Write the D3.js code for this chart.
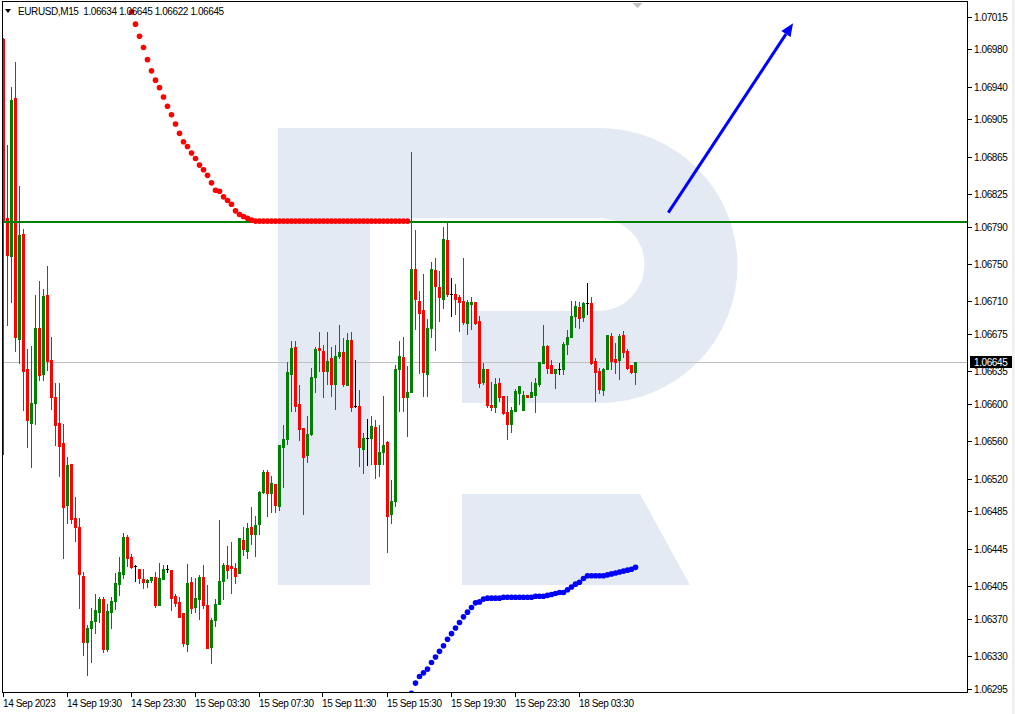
<!DOCTYPE html>
<html><head><meta charset="utf-8">
<script src="https://cdn.jsdelivr.net/npm/d3@7"></script>
<style>
html,body{margin:0;padding:0;background:#fff;}
svg{display:block;}
text{font-family:"Liberation Sans",Arial,sans-serif;font-size:10px;letter-spacing:-0.4px;}
</style></head><body>
<svg id="c" width="1015" height="714"></svg>
<script>
const symbol = "EURUSD,M15";
const lastOHLC = ["1.06634","1.06645","1.06622","1.06645"];
const timeLabels = ["14 Sep 2023","14 Sep 19:30","14 Sep 23:30","15 Sep 03:30","15 Sep 07:30","15 Sep 11:30","15 Sep 15:30","15 Sep 19:30","15 Sep 23:30","18 Sep 03:30"];
const timeTickIdx = [0,16,32,48,64,80,96,112,128,144];
const priceTicks = [1.07015,1.06980,1.06940,1.06905,1.06865,1.06825,1.06790,1.06750,1.06710,1.06675,1.06635,1.06600,1.06560,1.06520,1.06485,1.06445,1.06405,1.06370,1.06330,1.06295];

const open = [1.06991,1.06799,1.06759,1.06928,1.06670,1.06782,1.06638,1.06580,1.06601,1.06681,
1.06632,1.06717,1.06647,1.06608,1.06580,1.06558,1.06492,1.06536,1.06478,1.06468,
1.06416,1.06345,1.06360,1.06368,1.06377,1.06391,1.06338,1.06377,1.06389,1.06407,
1.06418,1.06458,1.06436,1.06426,1.06423,1.06413,1.06409,1.06411,1.06415,1.06385,
1.06413,1.06423,1.06422,1.06394,1.06388,1.06376,1.06343,1.06409,1.06383,1.06391,
1.06415,1.06385,1.06340,1.06369,1.06386,1.06410,1.06428,1.06426,1.06424,1.06419,
1.06454,1.06443,1.06468,1.06461,1.06471,1.06506,1.06527,1.06505,1.06514,1.06491,
1.06554,1.06563,1.06632,1.06661,1.06600,1.06574,1.06545,1.06568,1.06629,1.06660,
1.06657,1.06635,1.06649,1.06622,1.06651,1.06656,1.06620,1.06669,1.06598,1.06598,
1.06552,1.06564,1.06564,1.06575,1.06536,1.06549,1.06559,1.06482,1.06496,1.06638,
1.06650,1.06608,1.06613,1.06745,1.06710,1.06701,1.06632,1.06681,1.06744,1.06725,
1.06713,1.06776,1.06718,1.06718,1.06715,1.06710,1.06687,1.06707,1.06709,1.06689,
1.06624,1.06637,1.06599,1.06597,1.06623,1.06609,1.06591,1.06579,1.06593,1.06612,
1.06594,1.06610,1.06608,1.06610,1.06622,1.06644,1.06662,1.06642,1.06633,1.06638,
1.06638,1.06664,1.06672,1.06694,1.06704,1.06693,1.06708,1.06708,1.06646,1.06635,
1.06615,1.06637,1.06673,1.06648,1.06647,1.06674,1.06657,1.06642,1.06634];
const high = [1.06992,1.06877,1.06940,1.06966,1.06834,1.06788,1.06659,1.06662,1.06717,1.06732,
1.06723,1.06748,1.06672,1.06623,1.06623,1.06579,1.06543,1.06536,1.06500,1.06478,
1.06420,1.06363,1.06382,1.06396,1.06393,1.06393,1.06386,1.06393,1.06419,1.06436,
1.06462,1.06460,1.06439,1.06427,1.06423,1.06423,1.06413,1.06415,1.06420,1.06430,
1.06427,1.06428,1.06422,1.06396,1.06393,1.06376,1.06429,1.06415,1.06414,1.06417,
1.06428,1.06406,1.06371,1.06391,1.06476,1.06430,1.06448,1.06452,1.06430,1.06457,
1.06468,1.06472,1.06490,1.06480,1.06507,1.06529,1.06529,1.06523,1.06514,1.06556,
1.06578,1.06645,1.06667,1.06667,1.06620,1.06574,1.06587,1.06639,1.06661,1.06677,
1.06663,1.06677,1.06661,1.06663,1.06685,1.06671,1.06676,1.06677,1.06647,1.06615,
1.06569,1.06584,1.06587,1.06583,1.06577,1.06609,1.06560,1.06519,1.06642,1.06667,
1.06672,1.06641,1.06870,1.06786,1.06721,1.06739,1.06691,1.06752,1.06756,1.06742,
1.06790,1.06795,1.06735,1.06729,1.06717,1.06756,1.06711,1.06715,1.06709,1.06694,
1.06644,1.06638,1.06624,1.06628,1.06628,1.06609,1.06609,1.06597,1.06616,1.06619,
1.06614,1.06610,1.06624,1.06628,1.06645,1.06685,1.06663,1.06647,1.06638,1.06644,
1.06666,1.06679,1.06710,1.06710,1.06709,1.06709,1.06730,1.06715,1.06649,1.06639,
1.06639,1.06674,1.06676,1.06665,1.06675,1.06678,1.06659,1.06642,1.06645];
const low = [1.06547,1.06685,1.06709,1.06657,1.06644,1.06594,1.06554,1.06533,1.06579,1.06626,
1.06626,1.06636,1.06595,1.06556,1.06523,1.06435,1.06472,1.06472,1.06453,1.06382,
1.06331,1.06310,1.06324,1.06355,1.06366,1.06334,1.06335,1.06360,1.06380,1.06395,
1.06414,1.06426,1.06424,1.06410,1.06408,1.06403,1.06404,1.06409,1.06383,1.06385,
1.06413,1.06420,1.06379,1.06384,1.06372,1.06341,1.06335,1.06376,1.06377,1.06370,
1.06382,1.06339,1.06323,1.06362,1.06386,1.06391,1.06414,1.06397,1.06408,1.06419,
1.06438,1.06435,1.06450,1.06437,1.06461,1.06505,1.06480,1.06484,1.06484,1.06486,
1.06511,1.06557,1.06593,1.06593,1.06561,1.06482,1.06538,1.06567,1.06613,1.06635,
1.06608,1.06622,1.06609,1.06595,1.06649,1.06619,1.06620,1.06593,1.06597,1.06534,
1.06526,1.06535,1.06536,1.06521,1.06523,1.06536,1.06442,1.06472,1.06491,1.06593,
1.06593,1.06566,1.06613,1.06680,1.06633,1.06609,1.06609,1.06672,1.06658,1.06689,
1.06703,1.06716,1.06694,1.06696,1.06678,1.06686,1.06675,1.06680,1.06686,1.06618,
1.06622,1.06597,1.06594,1.06592,1.06603,1.06589,1.06563,1.06570,1.06593,1.06600,
1.06594,1.06607,1.06607,1.06591,1.06619,1.06644,1.06633,1.06633,1.06617,1.06632,
1.06632,1.06654,1.06672,1.06682,1.06681,1.06689,1.06697,1.06643,1.06603,1.06612,
1.06610,1.06637,1.06637,1.06633,1.06627,1.06650,1.06637,1.06633,1.06622];
const close = [1.06797,1.06760,1.06926,1.06672,1.06781,1.06635,1.06583,1.06601,1.06681,1.06631,
1.06716,1.06646,1.06607,1.06578,1.06555,1.06490,1.06535,1.06477,1.06468,1.06418,
1.06345,1.06360,1.06368,1.06379,1.06391,1.06338,1.06378,1.06389,1.06408,1.06420,
1.06458,1.06435,1.06425,1.06426,1.06414,1.06409,1.06412,1.06415,1.06385,1.06414,
1.06423,1.06423,1.06392,1.06387,1.06372,1.06344,1.06408,1.06381,1.06392,1.06415,
1.06385,1.06339,1.06369,1.06386,1.06410,1.06427,1.06422,1.06424,1.06416,1.06456,
1.06445,1.06467,1.06461,1.06470,1.06506,1.06527,1.06505,1.06515,1.06492,1.06556,
1.06563,1.06634,1.06660,1.06598,1.06573,1.06543,1.06568,1.06629,1.06659,1.06658,
1.06635,1.06646,1.06622,1.06652,1.06656,1.06621,1.06669,1.06597,1.06598,1.06554,
1.06564,1.06564,1.06576,1.06536,1.06549,1.06556,1.06480,1.06496,1.06638,1.06651,
1.06608,1.06613,1.06745,1.06713,1.06698,1.06634,1.06681,1.06745,1.06726,1.06715,
1.06777,1.06718,1.06718,1.06713,1.06709,1.06688,1.06709,1.06709,1.06687,1.06623,
1.06638,1.06599,1.06597,1.06622,1.06608,1.06590,1.06579,1.06594,1.06614,1.06619,
1.06610,1.06608,1.06613,1.06623,1.06645,1.06662,1.06639,1.06633,1.06638,1.06638,
1.06664,1.06672,1.06694,1.06705,1.06692,1.06708,1.06708,1.06644,1.06634,1.06616,
1.06638,1.06674,1.06646,1.06645,1.06673,1.06656,1.06639,1.06634,1.06645];

const redStart = 32;
const redDots = [1.07020,1.07007,1.06994,1.06982,1.06969,1.06957,1.06947,1.06939,1.06929,1.06919,
1.06910,1.06900,1.06890,1.06881,1.06876,1.06869,1.06863,1.06856,1.06851,1.06845,
1.06837,1.06829,1.06828,1.06822,1.06818,1.06814,1.06807,1.06803,1.06801,1.06799,1.06797,
1.06796,1.06796,1.06796,1.06796,1.06796,1.06796,1.06796,1.06796,1.06796,1.06796,
1.06796,1.06796,1.06796,1.06796,1.06796,1.06796,1.06796,1.06796,1.06796,1.06796,
1.06796,1.06796,1.06796,1.06796,1.06796,1.06796,1.06796,1.06796,1.06796,1.06796,
1.06796,1.06796,1.06796,1.06796,1.06796,1.06796,1.06796,1.06796,1.06796];
const blueStart = 102;
const blueDots = [1.06290,1.06301,1.06308,1.06312,1.06316,1.06323,1.06329,1.06335,1.06341,1.06348,
1.06354,1.06360,1.06366,1.06372,1.06377,1.06382,1.06387,1.06388,1.06391,1.06392,
1.06392,1.06392,1.06392,1.06393,1.06393,1.06393,1.06393,1.06393,1.06393,1.06393,
1.06393,1.06394,1.06394,1.06394,1.06395,1.06396,1.06397,1.06398,1.06398,1.06401,
1.06404,1.06407,1.06409,1.06413,1.06416,1.06416,1.06416,1.06416,1.06416,1.06417,
1.06418,1.06419,1.06420,1.06421,1.06422,1.06423,1.06425];

const levelPrice = 1.06795;
const bidPrice = 1.06645;
const bidLabel = "1.06645";
const arrowFrom = [166.2, 1.06805];
const arrowTo = [197.4, 1.07008];

const L = 2, R = 968, T = 2, B = 692;
const svg = d3.select("#c");
const x = d3.scaleLinear().domain([0, 241]).range([3.5, 967.5]);
const y = d3.scaleLinear().domain([1.06295, 1.07015]).range([688.7, 16.7]);

svg.append("defs").append("clipPath").attr("id","clip")
  .append("rect").attr("x",L+1).attr("y",T+1).attr("width",R-L-1).attr("height",B-T-1);

// watermark logo (decorative)
const wm = svg.append("g").attr("clip-path","url(#clip)");
wm.append("path").attr("fill","#e4eaf3")
  .attr("d","M278,128 H600 A137.5,137.5 0 0 1 600,403 H462 V311 H598 A46.5,46.5 0 0 0 598,218 H370 V585 H278 Z");
wm.append("path").attr("fill","#e4eaf3").attr("d","M462,494 H640 L690,585 H462 Z");

const g = svg.append("g").attr("clip-path","url(#clip)");

// bid line
g.append("line").attr("x1",L).attr("x2",R).attr("y1",Math.round(y(bidPrice))+0.5).attr("y2",Math.round(y(bidPrice))+0.5)
  .attr("stroke","#c0c0c0").attr("stroke-width",1);

// candles
const bars = d3.range(open.length).map(i => ({i, o:open[i], h:high[i], l:low[i], c:close[i]}));
const col = d => d.c > d.o ? "#008000" : (d.c < d.o ? "#ff0000" : "#000000");
g.selectAll("line.wick").data(bars).join("line").attr("class","wick")
  .attr("x1", d => x(d.i)).attr("x2", d => x(d.i))
  .attr("y1", d => Math.round(y(Math.max(d.h,d.o,d.c)))).attr("y2", d => Math.round(y(Math.min(d.l,d.o,d.c)))+1)
  .attr("stroke", col).attr("stroke-width",1);
g.selectAll("rect.body").data(bars).join("rect").attr("class","body")
  .attr("x", d => x(d.i)-1.5).attr("width",3)
  .attr("y", d => Math.round(y(Math.max(d.o,d.c))))
  .attr("height", d => Math.max(1, Math.round(y(Math.min(d.o,d.c))) - Math.round(y(Math.max(d.o,d.c)))+ (d.o===d.c?0:1)))
  .attr("fill", col);

// horizontal level
g.append("line").attr("x1",L).attr("x2",R).attr("y1",y(levelPrice)).attr("y2",y(levelPrice))
  .attr("stroke","#008000").attr("stroke-width",2);

// red dots
g.selectAll("circle.red").data(redDots.map((v,k)=>({i:redStart+k,v}))).join("circle").attr("class","red")
  .attr("cx", d => x(d.i)).attr("cy", d => y(d.v)).attr("r",2.8).attr("fill","#ff0000");
// blue dots
g.selectAll("circle.blue").data(blueDots.map((v,k)=>({i:blueStart+k,v}))).join("circle").attr("class","blue")
  .attr("cx", d => x(d.i)).attr("cy", d => y(d.v)).attr("r",2.8).attr("fill","#0000ff");

// arrow
const ax1 = x(arrowFrom[0]), ay1 = y(arrowFrom[1]), ax2 = x(arrowTo[0]), ay2 = y(arrowTo[1]);
const ang = Math.atan2(ay2-ay1, ax2-ax1);
const hl = 13, hw = 5.5;
const bx = ax2 - hl*Math.cos(ang), by = ay2 - hl*Math.sin(ang);
g.append("line").attr("x1",ax1).attr("y1",ay1).attr("x2",bx).attr("y2",by)
  .attr("stroke","#0000ff").attr("stroke-width",3);
g.append("path").attr("fill","#0000ff")
  .attr("d", `M${ax2},${ay2} L${bx - hw*Math.sin(ang)},${by + hw*Math.cos(ang)} L${bx + hw*Math.sin(ang)},${by - hw*Math.cos(ang)} Z`);

// shift marker
svg.append("path").attr("fill","#c0c0c0")
  .attr("d", `M${x(158.5)-5},${T+1} L${x(158.5)+5},${T+1} L${x(158.5)},${T+6} Z`);

// frame
svg.append("rect").attr("x",L+0.5).attr("y",T-0.5).attr("width",R-L-1).attr("height",B-T+1)
  .attr("fill","none").attr("stroke","#000").attr("stroke-width",1);

// price axis
const pa = svg.append("g");
priceTicks.forEach(v => {
  const yy = Math.round(y(v)) + 0.5;
  pa.append("line").attr("x1",R).attr("x2",R+4).attr("y1",yy).attr("y2",yy).attr("stroke","#000");
  pa.append("text").attr("x",R+6).attr("y",yy+3.5).attr("fill","#000").text(v.toFixed(5));
});
// bid label
const by0 = Math.round(y(bidPrice));
pa.append("rect").attr("x",R+2).attr("y",by0-6).attr("width",44).attr("height",12).attr("fill","#000");
pa.append("text").attr("x",R+6).attr("y",by0+4).attr("fill","#fff").text(bidLabel);

// time axis
const ta = svg.append("g");
timeTickIdx.forEach((idx,k) => {
  const xx = Math.round(x(idx)) - 0.5;
  ta.append("line").attr("x1",xx).attr("x2",xx).attr("y1",B).attr("y2",B+5).attr("stroke","#000");
  ta.append("text").attr("x",xx-0.5).attr("y",707).attr("fill","#000").text(timeLabels[k]);
});

// header
svg.append("path").attr("fill","#000").attr("d","M5,9 L11,9 L8,13 Z");
svg.append("text").attr("x",18).attr("y",15).attr("fill","#000")
  .attr("xml:space","preserve").style("white-space","pre")
  .text(symbol + "  " + lastOHLC.join(" "));

// right edge strip
svg.append("rect").attr("x",1012).attr("y",0).attr("width",3).attr("height",714).attr("fill","#f0f0f0");
</script>
</body></html>
